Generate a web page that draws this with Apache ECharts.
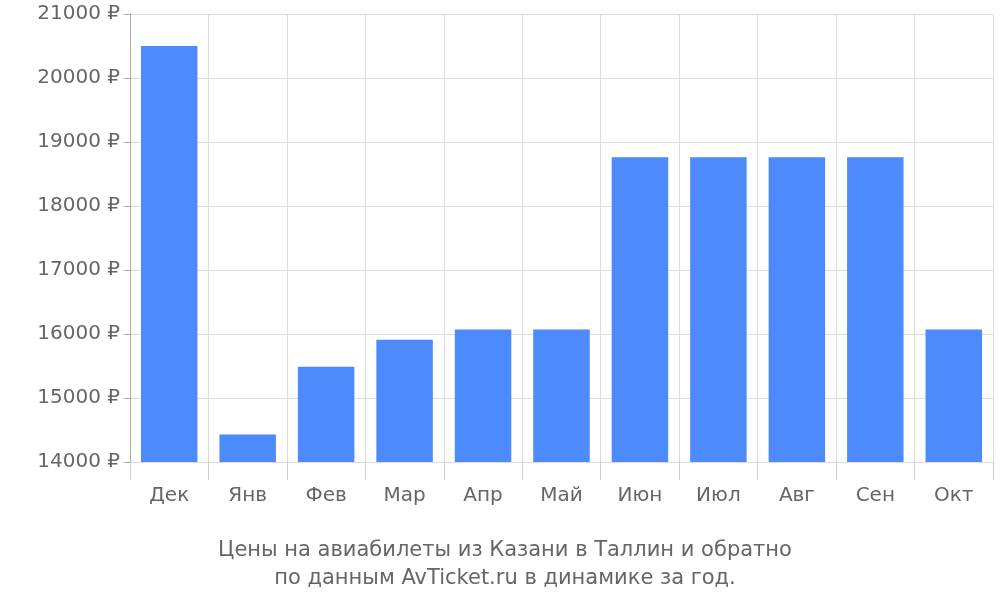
<!DOCTYPE html>
<html><head><meta charset="utf-8">
<script src="https://cdn.jsdelivr.net/npm/echarts@6/dist/echarts.min.js"></script>
<style>html,body{margin:0;padding:0;background:#fff}#c{width:1000px;height:600px}</style>
</head><body><div id="c"></div>
<script>
const categories = ['Дек','Янв','Фев','Мар','Апр','Май','Июн','Июл','Авг','Сен','Окт'];
const prices = [20500,14430,15490,15910,16070,16070,18760,18760,18760,18760,16070];
const titleLines = ['Цены на авиабилеты из Казани в Таллин и обратно','по данным AvTicket.ru в динамике за год.'];
const chart = echarts.init(document.getElementById('c'));
const font = 'DejaVu Sans';
chart.setOption({
  animation:false,
  textStyle:{fontFamily:font},
  title:{text:titleLines.join('\n'),left:500,textAlign:'center',top:532,
    textStyle:{fontFamily:font,fontSize:21,fontWeight:'normal',color:'#666',lineHeight:28}},
  grid:{left:130,right:7,top:14,bottom:138},
  xAxis:{type:'category',data:categories,
    axisLine:{show:false},
    axisTick:{show:true,length:18,lineStyle:{color:'#ccc'}},
    splitLine:{show:true,lineStyle:{color:'#ddd'}},
    axisLabel:{fontFamily:font,fontSize:20,color:'#666',margin:24}},
  yAxis:{type:'value',min:14000,max:21000,interval:1000,
    axisLine:{show:true,lineStyle:{color:'#aaa'}},
    axisTick:{show:true,length:6,lineStyle:{color:'#aaa'}},
    splitLine:{lineStyle:{color:'#ddd'}},
    axisLabel:{fontFamily:font,fontSize:20,color:'#666',formatter:v=>v+' ₽',margin:10}},
  series:[{type:'bar',data:prices,barWidth:'72%',itemStyle:{color:'#4d8afc'}}]
});
</script></body></html>
